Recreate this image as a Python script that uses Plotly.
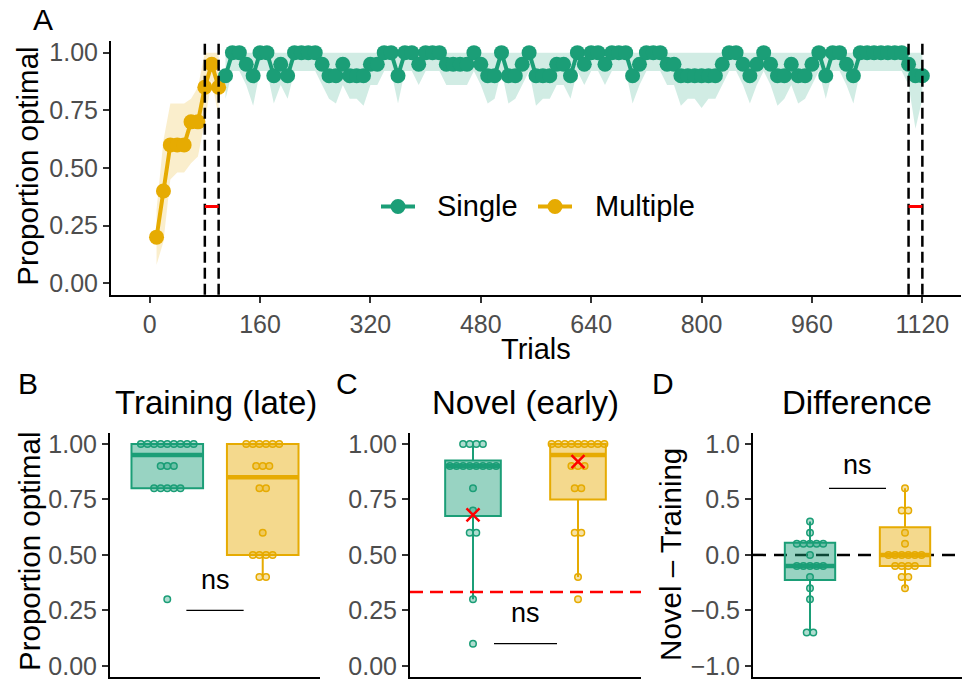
import plotly.graph_objects as go
from collections import Counter

W, H = 966, 681
GREEN = '#1b9e77'
ORANGE = '#e6ab02'
GREEN_RGB = '27,158,119'
ORANGE_RGB = '230,171,2'
TICK_COL = '#4d4d4d'
FONT = 'Liberation Sans, Arial, sans-serif'

# ---------------- Panel A data ----------------
multi_trials = [10, 20, 30, 40, 50, 60, 70, 80, 90, 100]
multi_vals = [0.2, 0.4, 0.6, 0.6, 0.6, 0.7, 0.7, 0.85, 0.95, 0.85]
multi_lo = [0.08, 0.18, 0.45, 0.48, 0.48, 0.52, 0.55, 0.70, 0.88, 0.72]
multi_hi = [0.32, 0.62, 0.78, 0.78, 0.78, 0.80, 0.85, 1.00, 1.00, 1.00]

single_trials = list(range(110, 1121, 10))
single_vals = [
    0.9, 1.0, 1.0, 0.95, 0.9, 1.0, 1.0, 0.9, 0.95, 0.9, 1.0, 1.0, 1.0, 1.0, 0.95, 0.9, 0.9, 0.95, 0.9, 0.9, 0.9, 0.95, 0.95, 1.0, 1.0,
    0.9, 1.0, 1.0, 0.95, 1.0, 1.0, 1.0, 0.95, 0.95, 0.95, 0.95, 1.0, 0.95, 0.9, 0.9, 1.0, 0.9, 0.9, 0.95, 1.0, 0.9, 0.9, 0.9, 0.95, 0.95,
    0.9, 1.0, 0.95, 1.0, 1.0, 0.95, 1.0, 1.0, 1.0, 0.9, 0.95, 1.0, 1.0, 1.0, 0.95, 0.95, 0.9, 0.9, 0.9, 0.9, 0.9, 0.9, 0.95, 1.0, 1.0, 0.95,
    0.9, 0.95, 1.0, 0.95, 0.9, 0.9, 0.95, 0.9, 0.9, 0.95, 1.0, 0.9, 1.0, 1.0, 0.95, 0.9, 1.0, 1.0, 1.0, 1.0, 1.0, 1.0, 1.0, 0.95, 0.9, 0.9,
]
single_lo = [
    0.8, 0.92, 0.92, 0.86, 0.77, 0.92, 0.92, 0.78, 0.86, 0.8, 0.92, 0.92, 0.92, 0.92, 0.86, 0.8, 0.78, 0.86, 0.8, 0.8, 0.77, 0.86, 0.86, 0.92, 0.92,
    0.78, 0.92, 0.92, 0.86, 0.92, 0.92, 0.92, 0.86, 0.86, 0.86, 0.86, 0.92, 0.86, 0.78, 0.8, 0.92, 0.78, 0.8, 0.86, 0.92, 0.77, 0.8, 0.8, 0.86, 0.86,
    0.8, 0.92, 0.86, 0.92, 0.92, 0.86, 0.92, 0.92, 0.92, 0.78, 0.86, 0.92, 0.92, 0.92, 0.86, 0.86, 0.77, 0.8, 0.8, 0.76, 0.8, 0.8, 0.86, 0.92, 0.92, 0.86,
    0.78, 0.86, 0.92, 0.86, 0.77, 0.8, 0.86, 0.78, 0.8, 0.86, 0.92, 0.8, 0.92, 0.92, 0.86, 0.78, 0.92, 0.92, 0.92, 0.92, 0.92, 0.92, 0.92, 0.86, 0.67, 0.8,
]
single_hi = [
    1.0, 1.0, 1.0, 1.0, 1.0, 1.0, 1.0, 1.0, 1.0, 1.0, 1.0, 1.0, 1.0, 1.0, 1.0, 1.0, 1.0, 1.0, 1.0, 1.0, 1.0, 1.0, 1.0, 1.0, 1.0,
    1.0, 1.0, 1.0, 1.0, 1.0, 1.0, 1.0, 1.0, 1.0, 1.0, 1.0, 1.0, 1.0, 1.0, 1.0, 1.0, 1.0, 1.0, 1.0, 1.0, 1.0, 1.0, 1.0, 1.0, 1.0,
    1.0, 1.0, 1.0, 1.0, 1.0, 1.0, 1.0, 1.0, 1.0, 1.0, 1.0, 1.0, 1.0, 1.0, 1.0, 1.0, 1.0, 1.0, 1.0, 1.0, 1.0, 1.0, 1.0, 1.0, 1.0, 1.0,
    1.0, 1.0, 1.0, 1.0, 1.0, 1.0, 1.0, 1.0, 1.0, 1.0, 1.0, 1.0, 1.0, 1.0, 1.0, 1.0, 1.0, 1.0, 1.0, 1.0, 1.0, 1.0, 1.0, 1.0, 1.0, 1.0,
]
phase_lines = [80, 100, 1100, 1120]
chance_segments = [(80, 100), (1100, 1120)]
chance = 1 / 3
a_xticks = [0, 160, 320, 480, 640, 800, 960, 1120]
prop_ticks = [0, 0.25, 0.5, 0.75, 1.0]
diff_ticks = [-1.0, -0.5, 0.0, 0.5, 1.0]
legend_labels = ['Single', 'Multiple']

# ---------------- Panels B-D data ----------------
B_single = [1.0, 1.0, 1.0, 1.0, 1.0, 1.0, 1.0, 1.0, 1.0, 0.9, 0.9, 0.9, 0.8, 0.8, 0.8, 0.8, 0.8, 0.3]
B_multi = [1.0, 1.0, 1.0, 1.0, 1.0, 1.0, 0.9, 0.9, 0.9, 0.8, 0.8, 0.6, 0.5, 0.5, 0.5, 0.5, 0.4, 0.4]
C_single = [1.0, 1.0, 1.0, 1.0, 0.9, 0.9, 0.9, 0.9, 0.9, 0.9, 0.9, 0.9, 0.8, 0.7, 0.6, 0.6, 0.3, 0.1]
C_multi = [1.0, 1.0, 1.0, 1.0, 1.0, 1.0, 1.0, 1.0, 1.0, 0.9, 0.9, 0.9, 0.8, 0.8, 0.6, 0.6, 0.4, 0.3]
D_single = [0.3, 0.2, 0.1, 0.1, 0.1, 0.1, 0.1, 0.0, -0.1, -0.1, -0.1, -0.1, -0.1, -0.2, -0.3, -0.4, -0.7, -0.7]
D_multi = [0.6, 0.4, 0.4, 0.2, 0.1, 0.0, 0.0, 0.0, 0.0, 0.0, 0.0, -0.1, -0.1, -0.1, -0.1, -0.2, -0.2, -0.3]

# box statistics: (q1, median, q3, lower fence, upper fence)
B_stats = [(0.8, 0.95, 1.0, 0.8, 1.0), (0.5, 0.85, 1.0, 0.4, 1.0)]
C_stats = [(0.675, 0.9, 0.925, 0.3, 1.0), (0.75, 0.95, 1.0, 0.4, 1.0)]
D_stats = [(-0.225, -0.1, 0.11, -0.7, 0.3), (-0.1, 0.0, 0.25, -0.3, 0.6)]
C_marks = [0.68, 0.92]   # red crosses in panel C

# ---------------- layout geometry (pixels) ----------------
A_px = (111, 961, 38.4, 294)
B_px = (110, 320, 433, 679)
C_px = (410, 641, 433, 679)
D_px = (753, 962, 433, 679)


def xd(p):
    return [p[0] / W, p[1] / W]


def yd(p):
    return [1 - p[3] / H, 1 - p[2] / H]


fig = go.Figure()

# ---- Panel A ----
fig.add_trace(go.Scatter(x=multi_trials + multi_trials[::-1], y=multi_hi + multi_lo[::-1],
                         fill='toself', fillcolor=f'rgba({ORANGE_RGB},0.2)', line=dict(width=0),
                         mode='lines', hoverinfo='skip', showlegend=False, xaxis='x', yaxis='y'))
fig.add_trace(go.Scatter(x=single_trials + single_trials[::-1], y=single_hi + single_lo[::-1],
                         fill='toself', fillcolor=f'rgba({GREEN_RGB},0.2)', line=dict(width=0),
                         mode='lines', hoverinfo='skip', showlegend=False, xaxis='x', yaxis='y'))
fig.add_trace(go.Scatter(x=multi_trials, y=multi_vals, mode='lines+markers', name='Multiple',
                         line=dict(color=ORANGE, width=4), marker=dict(color=ORANGE, size=15),
                         showlegend=False, xaxis='x', yaxis='y'))
fig.add_trace(go.Scatter(x=single_trials, y=single_vals, mode='lines+markers', name='Single',
                         line=dict(color=GREEN, width=4), marker=dict(color=GREEN, size=15),
                         showlegend=False, xaxis='x', yaxis='y'))

shapes = []
for t in phase_lines:
    shapes.append(dict(type='line', xref='x', yref='y domain', x0=t, x1=t, y0=0, y1=1,
                       line=dict(color='black', width=2.5, dash='11px,5px')))
for a, b in chance_segments:
    shapes.append(dict(type='line', xref='x', yref='y', x0=a, x1=b, y0=chance, y1=chance,
                       line=dict(color='red', width=3)))

# ---- legend drawn inside panel A (symbol: line + dot, then label) ----
annotations = []
legend_items = [(legend_labels[0], GREEN, 398, 437), (legend_labels[1], ORANGE, 555, 595)]
LEG_Y = 205
for lab, col, cx, tx in legend_items:
    shapes.append(dict(type='line', xref='paper', yref='paper', x0=(cx - 17) / W, x1=(cx + 17) / W,
                       y0=1 - LEG_Y / H, y1=1 - LEG_Y / H, line=dict(color=col, width=4)))
    shapes.append(dict(type='circle', xref='paper', yref='paper', xsizemode='pixel', ysizemode='pixel',
                       xanchor=cx / W, yanchor=1 - LEG_Y / H, x0=-7.5, x1=7.5, y0=-7.5, y1=7.5,
                       fillcolor=col, line=dict(color=col, width=0)))
    annotations.append(dict(text=lab, x=(tx - 2) / W, y=1 - LEG_Y / H, xref='paper', yref='paper',
                            showarrow=False, xanchor='left', yanchor='middle',
                            font=dict(size=29, color='black')))


# ---- Panels B-D ----
def stack(vals, center, dx):
    counts = Counter(vals)
    seen = {}
    xs = []
    for v in vals:
        k = counts[v]
        i = seen.get(v, 0)
        seen[v] = i + 1
        xs.append(center + (i - (k - 1) / 2) * dx)
    return xs, list(vals)


def add_panel(ax, px, data, stats, box_w):
    xa = 'x' + ax
    ya = 'y' + ax
    ppu = (px[1] - px[0]) / 2.2
    dx = 6.6 / ppu
    cols = [(GREEN, GREEN_RGB), (ORANGE, ORANGE_RGB)]
    for gi, (vals, st) in enumerate(zip(data, stats)):
        c, rgb = cols[gi]
        pos = gi + 1
        q1, med, q3, lf, uf = st
        fig.add_trace(go.Box(x=[pos], q1=[q1], median=[med], q3=[q3], lowerfence=[lf], upperfence=[uf],
                             width=box_w, fillcolor=f'rgba({rgb},0.45)', line=dict(color=c, width=2),
                             whiskerwidth=0, boxpoints=False, showlegend=False, hoverinfo='skip',
                             xaxis=xa, yaxis=ya))
        fig.add_trace(go.Scatter(x=[pos - box_w / 2, pos + box_w / 2], y=[med, med], mode='lines',
                                 line=dict(color=c, width=4.5), showlegend=False, hoverinfo='skip',
                                 xaxis=xa, yaxis=ya))
        xs, ys = stack(vals, pos, dx)
        fig.add_trace(go.Scatter(x=xs, y=ys, mode='markers',
                                 marker=dict(size=6.5, color=f'rgba({rgb},0.35)', line=dict(color=c, width=1.5)),
                                 showlegend=False, hoverinfo='skip', xaxis=xa, yaxis=ya))


add_panel('2', B_px, [B_single, B_multi], B_stats, 0.75)
add_panel('3', C_px, [C_single, C_multi], C_stats, 0.53)
add_panel('4', D_px, [D_single, D_multi], D_stats, 0.53)

fig.add_trace(go.Scatter(x=[1, 2], y=C_marks, mode='markers',
                         marker=dict(symbol='x-thin', size=13, line=dict(color='red', width=2.5)),
                         showlegend=False, hoverinfo='skip', xaxis='x3', yaxis='y3'))

# reference lines in C and D
shapes.append(dict(type='line', xref='x3 domain', yref='y3', x0=0, x1=1, y0=chance, y1=chance,
                   line=dict(color='red', width=2.5, dash='13px,7px')))
shapes.append(dict(type='line', xref='x4 domain', yref='y4', x0=0, x1=1, y0=0, y1=0, layer='below',
                   line=dict(color='black', width=2.5, dash='13px,8px')))

# significance bars
ns_bars = [('2', 0.25, 0.31), ('3', 0.1, 0.16), ('4', 0.6, 0.655)]
for ax, yl, yt in ns_bars:
    fig.add_trace(go.Scatter(x=[1.2, 1.8], y=[yl, yl], mode='lines', line=dict(color='black', width=1.2),
                             showlegend=False, hoverinfo='skip', xaxis='x' + ax, yaxis='y' + ax))
    annotations.append(dict(text='ns', x=1.5, y=yt, xref='x' + ax, yref='y' + ax, showarrow=False,
                            xanchor='center', yanchor='bottom', font=dict(size=27, color='black')))


def txt(s, x, y, size, angle=0):
    annotations.append(dict(text=s, x=x / W, y=1 - y / H, xref='paper', yref='paper', showarrow=False,
                            xanchor='center', yanchor='middle', textangle=angle,
                            font=dict(size=size, color='black')))


txt('A', 43, 17, 30)
txt('B', 28, 383, 30)
txt('C', 347, 383, 30)
txt('D', 663, 383, 30)
txt('Proportion optimal', 28, 165, 29.5, -90)
txt('Trials', 536, 349, 29)
txt('Training (late)', 216, 402, 33)
txt('Novel (early)', 525, 402, 33)
txt('Difference', 857, 402, 33)
txt('Proportion optimal', 30, 553, 29.5, -90)
txt('Novel – Training', 671, 556, 29.5, -90)

axis_common = dict(showline=True, linecolor='black', linewidth=2, showgrid=False, zeroline=False,
                   ticks='outside', ticklen=6, tickwidth=2, tickcolor='#333333',
                   tickfont=dict(size=25, color=TICK_COL))
noticks_x = dict(showline=True, linecolor='black', linewidth=2, showgrid=False, zeroline=False,
                 ticks='', showticklabels=False, range=[0.4, 2.6])

fig.update_layout(
    width=W, height=H, autosize=False,
    margin=dict(l=0, r=0, t=0, b=0),
    paper_bgcolor='white', plot_bgcolor='white',
    font=dict(family=FONT, color='black'),
    showlegend=False,
    xaxis=dict(domain=xd(A_px), range=[-56, 1176], tickvals=a_xticks, anchor='y', **axis_common),
    yaxis=dict(domain=yd(A_px), range=[-0.05, 1.05], tickvals=prop_ticks, tickformat='.2f', anchor='x',
               **axis_common),
    xaxis2=dict(domain=xd(B_px), anchor='y2', **noticks_x),
    yaxis2=dict(domain=yd(B_px), range=[-0.05, 1.05], tickvals=prop_ticks, tickformat='.2f', anchor='x2',
                **axis_common),
    xaxis3=dict(domain=xd(C_px), anchor='y3', **noticks_x),
    yaxis3=dict(domain=yd(C_px), range=[-0.05, 1.05], tickvals=prop_ticks, tickformat='.2f', anchor='x3',
                **axis_common),
    xaxis4=dict(domain=xd(D_px), anchor='y4', **noticks_x),
    yaxis4=dict(domain=yd(D_px), range=[-1.1, 1.1], tickvals=diff_ticks, tickformat='.1f', anchor='x4',
                **axis_common),
    shapes=shapes,
    annotations=annotations,
)

fig.write_html('out.html', config={'displayModeBar': False},
               post_script="document.body.style.margin='0px';document.body.style.overflow='hidden';")
